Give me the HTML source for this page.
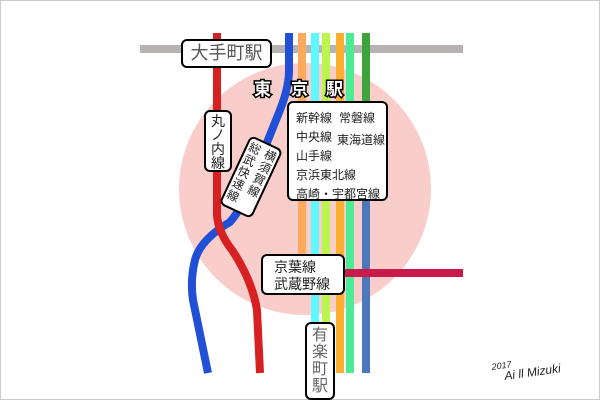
<!DOCTYPE html>
<html><head><meta charset="utf-8"><style>
body{margin:0;background:#fff}
.w{position:relative;width:600px;height:400px;overflow:hidden;font-family:"Liberation Sans","Noto Sans CJK JP",sans-serif}
.b{position:absolute;background:#fff;border:2px solid #000;border-radius:6px;box-sizing:border-box;color:#222}
.s{text-align:center}
.s span{display:block}
</style></head><body><div class="w">
<svg width="600" height="400" style="position:absolute;left:0;top:0">
<rect x="0.5" y="0.5" width="599" height="399" fill="#fff" stroke="#ccc"/>
<circle cx="305" cy="189" r="126" fill="#f9cdc9"/>
<rect x="140" y="45" width="323" height="8" fill="#b8b3b3"/>
<g stroke-width="8" fill="none">
<line x1="302" y1="33" x2="302" y2="260" stroke="#fdaa5c"/>
<line x1="315" y1="33" x2="315" y2="373" stroke="#5ff8ff"/>
<line x1="326" y1="33" x2="326" y2="373" stroke="#bbf54d"/>
<line x1="340" y1="33" x2="340" y2="373" stroke="#fdb030"/>
<line x1="350" y1="33" x2="350" y2="373" stroke="#4cec95"/>
<line x1="366" y1="33" x2="366" y2="200" stroke="#3da33a"/>
<line x1="366" y1="200" x2="366" y2="373" stroke="#4a78bb"/>
<line x1="345" y1="273" x2="463" y2="273" stroke="#c91a4a"/>
<path d="M289 33 L289 73 Q288 90 280 110 L256 170 Q245 205 230 222 Q200 240 195 260 Q190 280 193 300 L208 373" stroke="#2150d6"/>
<path d="M217 33 L217 215 Q218 232 232 250 Q252 280 257 310 L260 373" stroke="#d62022"/>
</g>
<g font-family="'Liberation Sans','Noto Sans CJK JP',sans-serif" font-weight="bold" font-size="17" fill="#fff" stroke="#000" stroke-width="3" paint-order="stroke">
<text x="254" y="95">東</text><text x="291" y="95">京</text><text x="326" y="95">駅</text>
</g>
<text x="492" y="370" font-size="9" font-style="italic" fill="#222" transform="rotate(-8 492 370)">2017</text>
<text x="505" y="380" font-size="12" font-style="italic" fill="#222" transform="rotate(-8 505 380)">Ai ll Mizuki</text>
</svg>
<div class="b" style="left:181px;top:39px;width:91px;height:29px;font-size:18px;line-height:25px;text-align:center;color:#555">大手町駅</div>
<div class="b s" style="left:204px;top:110px;width:28px;height:62px;font-size:14px;line-height:14px;padding-top:2px"><span>丸</span><span>ノ</span><span>内</span><span>線</span></div>
<div class="b" style="left:233px;top:139px;width:36px;height:76px;transform:rotate(25deg);font-size:12px;line-height:13px">
<div class="s" style="position:absolute;right:1px;top:3px;width:13px"><span>横</span><span>須</span><span>賀</span><span>線</span></div>
<div class="s" style="position:absolute;left:1px;top:3px;width:13px"><span>総</span><span>武</span><span>快</span><span>速</span><span>線</span></div>
</div>
<div class="b" style="left:287px;top:101px;width:101px;height:100px;font-size:12px;line-height:19px">
<div style="position:absolute;left:7px;top:6px">新幹線<br>中央線<br>山手線<br>京浜東北線<br>高崎・宇都宮線</div>
<div style="position:absolute;left:50px;top:6px">常磐線</div>
<div style="position:absolute;left:48px;top:28px">東海道線</div>
</div>
<div class="b" style="left:261px;top:254px;width:84px;height:41px;font-size:14px;line-height:17px;padding:3px 0 0 11px">京葉線<br>武蔵野線</div>
<div class="b s" style="left:305px;top:322px;width:30px;height:78px;font-size:16px;line-height:17px;color:#666;padding-top:3px"><span>有</span><span>楽</span><span>町</span><span>駅</span></div>
</div></body></html>
